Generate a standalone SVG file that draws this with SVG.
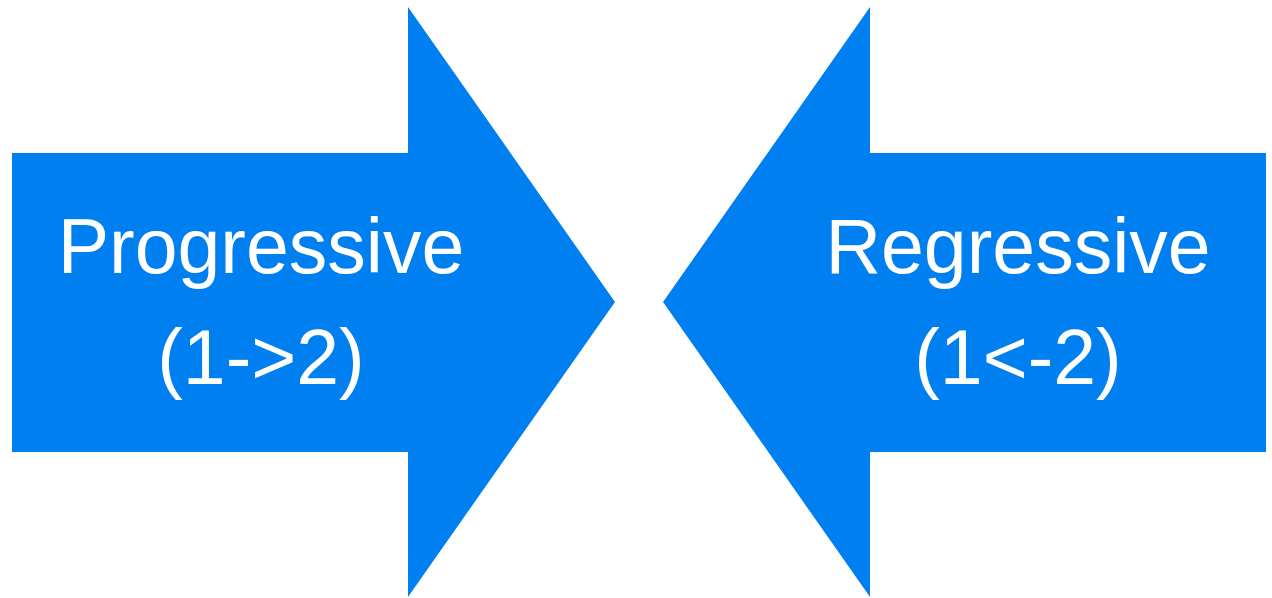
<svg xmlns="http://www.w3.org/2000/svg" width="1272" height="598" viewBox="0 0 1272 598">
<style>
.arrow{fill:#0080f0;}
.lbl{fill:#ffffff;font-family:"Liberation Sans",Arial,sans-serif;font-size:77px;text-anchor:middle;}
</style>
<rect width="1272" height="598" fill="#ffffff"/>
<g id="progressive">
<polygon class="arrow" points="12,153 408,153 408,7 615,302 408,597 408,452 12,452"/>
<text class="lbl" x="261" y="273">Progressive</text>
<text class="lbl" x="261" y="384">(1-&gt;2)</text>
</g>
<g id="regressive">
<polygon class="arrow" points="1266,153 870,153 870,7 663,302 870,597 870,452 1266,452"/>
<text class="lbl" x="1018" y="273">Regressive</text>
<text class="lbl" x="1018" y="384">(1&lt;-2)</text>
</g>
<g id="connectors"/>
</svg>
